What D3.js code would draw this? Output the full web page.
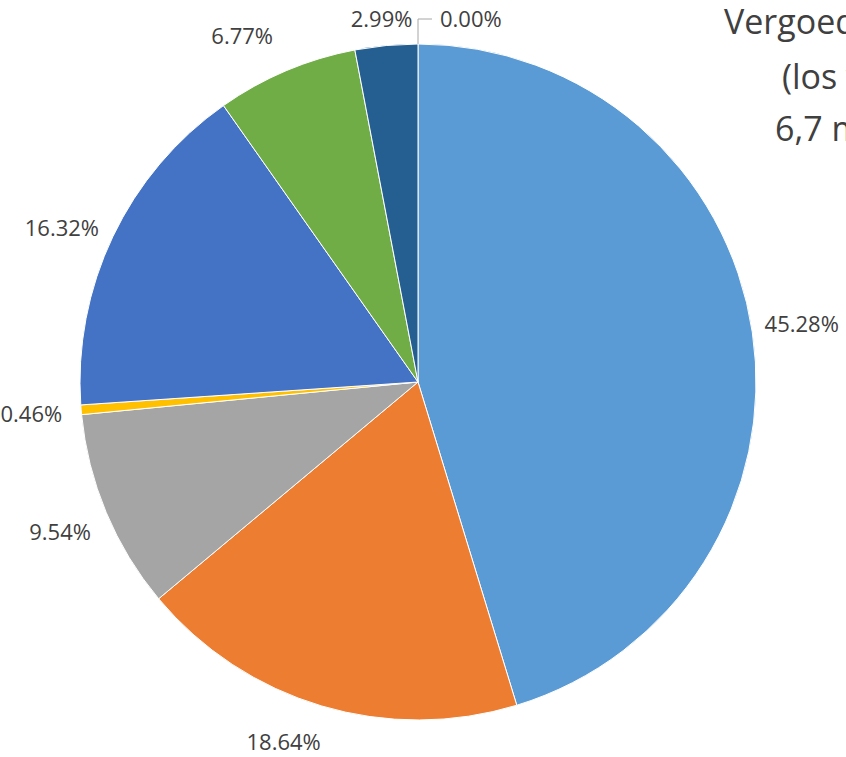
<!DOCTYPE html>
<html>
<head>
<meta charset="utf-8">
<script src="https://cdn.jsdelivr.net/npm/d3@7"></script>
<style>
    html, body { margin: 0; padding: 0; background: #ffffff; }
    #chart { width: 846px; height: 757px; overflow: hidden; }
    text { font-family: "Open Sans", "Noto Sans", sans-serif; fill: #404040; }
</style>
</head>
<body>
<div id="chart"></div>
<script>
// Slice categories (legend not visible in the reference) and their shares in %
const categories = ["Categorie 1", "Categorie 2", "Categorie 3", "Categorie 4", "Categorie 5", "Categorie 6", "Categorie 7", "Categorie 8"];
const shares = [45.28, 18.64, 9.54, 0.46, 16.32, 6.77, 2.99, 0.00];
const sliceColors = ["#5B9BD5", "#ED7D31", "#A5A5A5", "#FFC000", "#4472C4", "#70AD47", "#255E91", "#9E480E"];
const titleLines = ["Vergoede kosten", "(los van", "6,7 miljoen)"];

const width = 846, height = 757;
const cx = 418, cy = 382, radius = 338;
const labelRadius = 388;

// Excel "best fit" pushes a few labels sideways a bit (degrees)
const labelAngleShift = { "Categorie 2": 3.7, "Categorie 5": -2.1, "Categorie 6": -4 };

const svg = d3.select("#chart")
    .append("svg")
    .attr("width", width)
    .attr("height", height);

const data = categories.map((c, i) => ({ name: c, value: shares[i], color: sliceColors[i] }));

const pie = d3.pie()
    .sort(null)
    .value(d => d.value);

const arc = d3.arc()
    .innerRadius(0)
    .outerRadius(radius);

const arcs = pie(data);

const g = svg.append("g")
    .attr("transform", `translate(${cx},${cy})`);

g.selectAll("path.slice")
    .data(arcs.filter(d => d.data.value > 0))
    .enter()
    .append("path")
    .attr("class", "slice")
    .attr("d", arc)
    .attr("fill", d => d.data.color)
    .attr("stroke", "#ffffff")
    .attr("stroke-width", 1);

// point on a circle of radius r at angle a (radians, clockwise from 12 o'clock)
const pointAt = (a, r) => [r * Math.sin(a), -r * Math.cos(a)];

const fmt = v => v.toFixed(2) + "%";
const minY = 19 - cy, maxY = 742 - cy;

arcs.forEach(d => {
    if (d.data.value > 0) {
        const shift = (labelAngleShift[d.data.name] || 0) * Math.PI / 180;
        const mid = (d.startAngle + d.endAngle) / 2 + shift;
        let [x, y] = pointAt(mid, labelRadius);
        y = Math.max(minY, Math.min(maxY, y));
        g.append("text")
            .attr("x", x)
            .attr("y", y)
            .attr("dy", "0.35em")
            .attr("text-anchor", "middle")
            .style("font-size", "22px")
            .text(fmt(d.data.value));
    } else {
        // zero slice: label with a leader line
        const [ex, ey] = pointAt(d.startAngle, radius);
        const ly = minY;
        g.append("polyline")
            .attr("points", [[ex, ey], [ex, ly], [ex + 14, ly]].map(p => p.join(",")).join(" "))
            .attr("fill", "none")
            .attr("stroke", "#A6A6A6")
            .attr("stroke-width", 1);
        g.append("text")
            .attr("x", ex + 22)
            .attr("y", ly)
            .attr("dy", "0.35em")
            .attr("text-anchor", "start")
            .style("font-size", "22px")
            .text(fmt(d.data.value));
    }
});

// Title (runs off the right edge in the reference)
const titleX = [724, 782, 775];
const titleY = [34, 89, 141];
svg.append("g")
    .selectAll("text")
    .data(titleLines)
    .enter()
    .append("text")
    .attr("x", (d, i) => titleX[i])
    .attr("y", (d, i) => titleY[i])
    .style("font-size", "34px")
    .text(d => d);
</script>
</body>
</html>
